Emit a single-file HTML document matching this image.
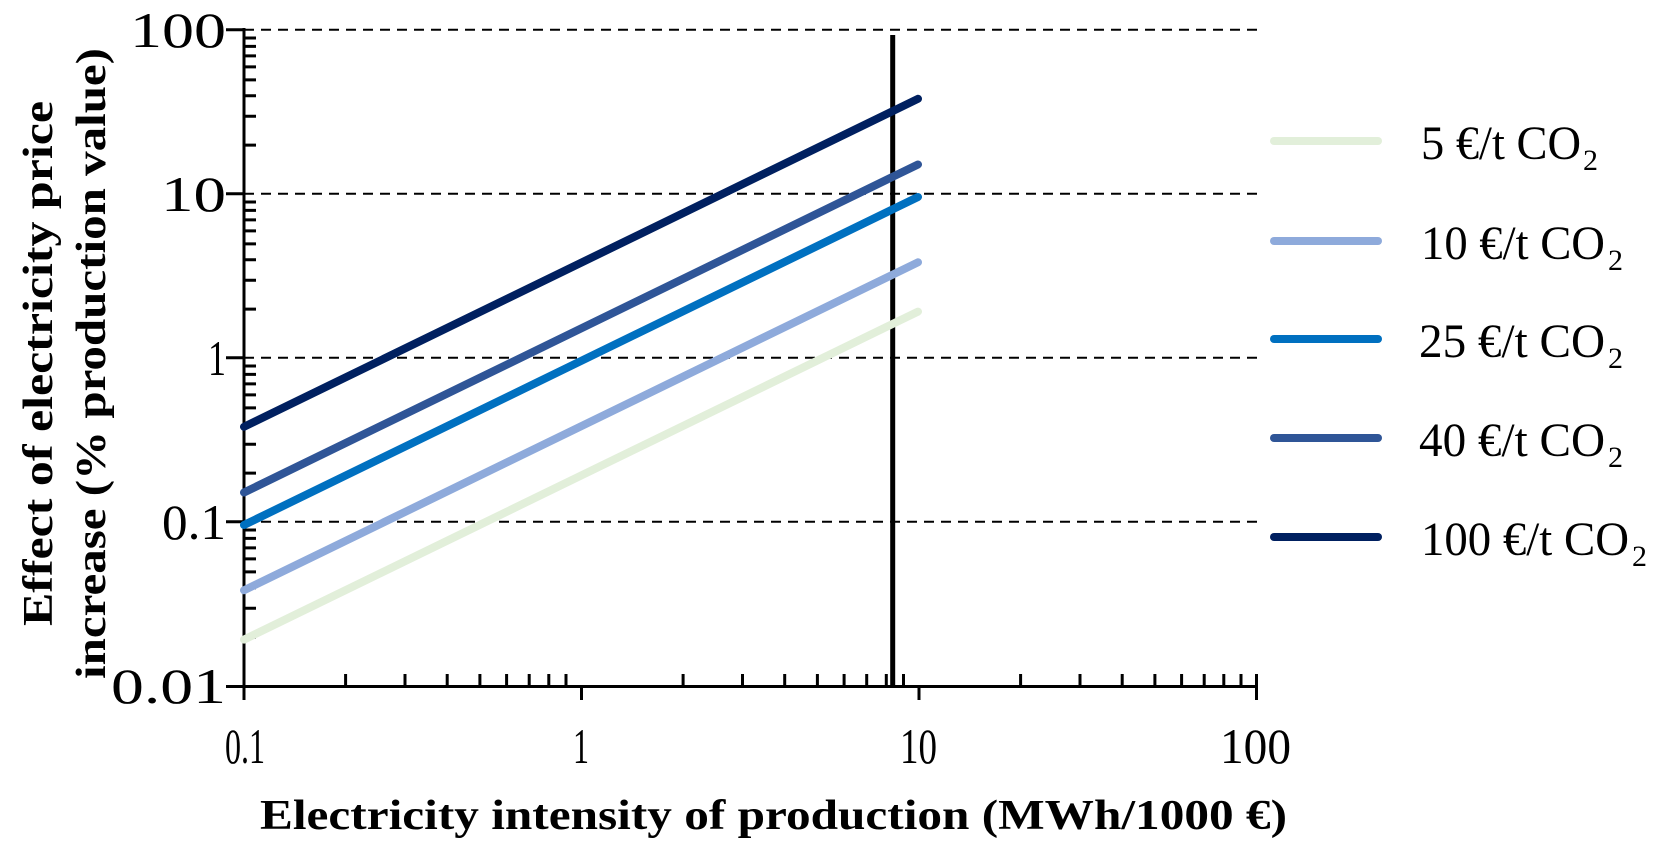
<!DOCTYPE html>
<html><head><meta charset="utf-8"><style>
html,body{margin:0;padding:0;background:#fff;}
svg{display:block;}
text{font-family:"Liberation Serif",serif;fill:#000;}
</style></head><body>
<svg width="1664" height="842" viewBox="0 0 1664 842" xmlns="http://www.w3.org/2000/svg">
<g stroke="#000" stroke-width="2" stroke-dasharray="10,7">
<line x1="244" y1="29.7" x2="1257" y2="29.7"/>
<line x1="244" y1="193.7" x2="1257" y2="193.7"/>
<line x1="244" y1="357.7" x2="1257" y2="357.7"/>
<line x1="244" y1="521.7" x2="1257" y2="521.7"/>
</g>
<g stroke="#000" stroke-width="3">
<line x1="244" y1="28" x2="244" y2="688"/>
<line x1="226" y1="686.5" x2="1257" y2="686.5"/>
</g>
<path stroke="#000" stroke-width="3" fill="none" d="
M226 29.7H244 M226 193.7H244 M226 357.7H244 M226 521.7H244
M244 637.1h12 M244 608.3h12 M244 587.8h12 M244 571.9h12 M244 558.9h12 M244 547.9h12 M244 538.4h12 M244 530h12
M244 473.1h12 M244 444.3h12 M244 423.8h12 M244 407.9h12 M244 394.9h12 M244 383.9h12 M244 374.4h12 M244 366h12
M244 309.1h12 M244 280.3h12 M244 259.8h12 M244 243.9h12 M244 230.9h12 M244 219.9h12 M244 210.4h12 M244 202h12
M244 145.1h12 M244 116.3h12 M244 95.8h12 M244 79.9h12 M244 66.9h12 M244 55.9h12 M244 46.4h12 M244 38h12
M244 686V700 M581.5 686V700 M919 686V700 M1256.5 674V700
M345.6 674v12 M405 674v12 M447.2 674v12 M479.9 674v12 M506.6 674v12 M529.2 674v12 M548.8 674v12 M566 674v12
M683.1 674v12 M742.5 674v12 M784.7 674v12 M817.4 674v12 M844.1 674v12 M866.7 674v12 M886.3 674v12 M903.5 674v12
M1020.6 674v12 M1080 674v12 M1122.2 674v12 M1154.9 674v12 M1181.6 674v12 M1204.2 674v12 M1223.8 674v12 M1241 674v12"/>
<line x1="892.7" y1="35" x2="892.7" y2="688" stroke="#000" stroke-width="5"/>
<g stroke-width="8" stroke-linecap="round" fill="none">
<line x1="244" y1="639.6" x2="918" y2="311.6" stroke="#e2efda"/>
<line x1="244" y1="590.3" x2="918" y2="262.3" stroke="#8eaadb"/>
<line x1="244" y1="525.0" x2="918" y2="197.0" stroke="#0070c0"/>
<line x1="244" y1="492.5" x2="918" y2="164.5" stroke="#2f5597"/>
<line x1="244" y1="426.8" x2="918" y2="98.8" stroke="#002060"/>
</g>
<g stroke-width="8" stroke-linecap="round">
<line x1="1274" y1="141" x2="1378" y2="141" stroke="#e2efda"/>
<line x1="1274" y1="241" x2="1378" y2="241" stroke="#8eaadb"/>
<line x1="1274" y1="339" x2="1378" y2="339" stroke="#0070c0"/>
<line x1="1274" y1="438" x2="1378" y2="438" stroke="#2f5597"/>
<line x1="1274" y1="537" x2="1378" y2="537" stroke="#002060"/>
</g>
<g font-size="48">
<text x="1421" y="159" textLength="160" lengthAdjust="spacingAndGlyphs">5 €/t CO</text><text x="1583" y="170" font-size="30">2</text>
<text x="1421" y="259" textLength="184" lengthAdjust="spacingAndGlyphs">10 €/t CO</text><text x="1608" y="270" font-size="30">2</text>
<text x="1419" y="357" textLength="186" lengthAdjust="spacingAndGlyphs">25 €/t CO</text><text x="1608" y="368" font-size="30">2</text>
<text x="1419" y="456" textLength="186" lengthAdjust="spacingAndGlyphs">40 €/t CO</text><text x="1608" y="467" font-size="30">2</text>
<text x="1421" y="555" textLength="208" lengthAdjust="spacingAndGlyphs">100 €/t CO</text><text x="1632" y="566" font-size="30">2</text>
</g>
<g font-size="50">
<text x="130" y="47" textLength="96" lengthAdjust="spacingAndGlyphs">100</text>
<text x="161" y="211" textLength="65" lengthAdjust="spacingAndGlyphs">10</text>
<text x="208" y="375" textLength="18" lengthAdjust="spacingAndGlyphs">1</text>
<text x="162" y="539" textLength="64" lengthAdjust="spacingAndGlyphs">0.1</text>
<text x="111" y="703" textLength="115" lengthAdjust="spacingAndGlyphs">0.01</text>
<text x="225" y="763" textLength="40" lengthAdjust="spacingAndGlyphs">0.1</text>
<text x="573" y="763" textLength="16" lengthAdjust="spacingAndGlyphs">1</text>
<text x="900" y="763" textLength="37" lengthAdjust="spacingAndGlyphs">10</text>
<text x="1220" y="763" textLength="71" lengthAdjust="spacingAndGlyphs">100</text>
</g>
<text x="260" y="829" font-size="42" font-weight="bold" textLength="1027" lengthAdjust="spacingAndGlyphs">Electricity intensity of production (MWh/1000 €)</text>
<g font-size="42" font-weight="bold">
<text transform="translate(52,626) rotate(-90)" textLength="525" lengthAdjust="spacingAndGlyphs">Effect of electricity price</text>
<text transform="translate(105,679) rotate(-90)" textLength="631" lengthAdjust="spacingAndGlyphs">increase (% production value)</text>
</g>
</svg>
</body></html>
